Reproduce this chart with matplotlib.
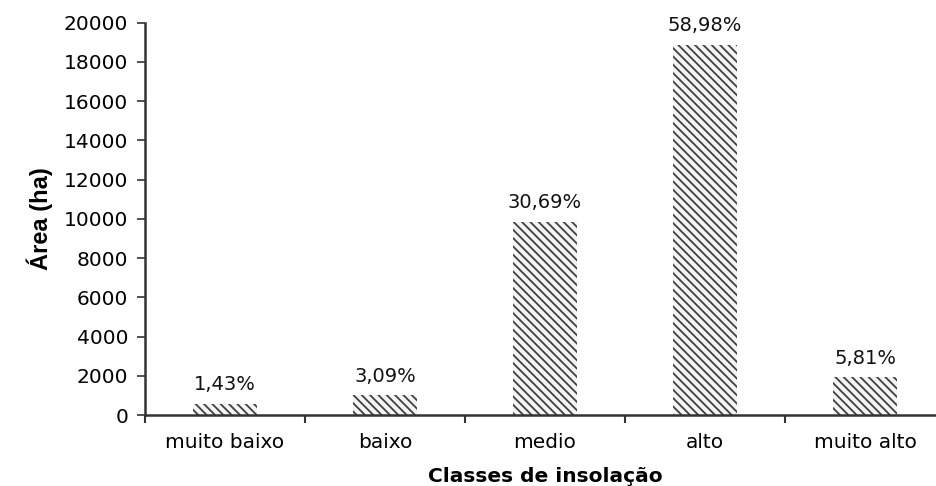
import matplotlib
matplotlib.use("Agg")
import matplotlib.pyplot as plt
import numpy as np

# data
classes = ["muito baixo", "baixo", "medio", "alto", "muito alto"]
area_ha = [580, 1000, 9860, 18870, 1920]
pct_labels = ["1,43%", "3,09%", "30,69%", "58,98%", "5,81%"]
y_ticks = list(range(0, 20001, 2000))

plt.rcParams['font.family'] = ['DejaVu Sans']
plt.rcParams['hatch.linewidth'] = 1.3

fig = plt.figure(figsize=(9.36, 4.86), dpi=100)
ax = fig.add_axes([145/936, 1 - 415/486, 800/936, (415 - 22.7)/486])

x = np.arange(len(classes))
ax.bar(x, area_ha, width=0.40, color='#f4f4f4', edgecolor='#404040', hatch='\\\\\\\\', lw=0)

for xi, v, lab in zip(x, area_ha, pct_labels):
    ax.annotate(lab, (xi, v), xytext=(0, 7), textcoords='offset points',
                ha='center', va='bottom', fontsize=14, color='#111111')

ax.set_xlim(-0.5, len(classes) - 0.5)
ax.set_ylim(0, 20000)
ax.set_yticks(y_ticks)
ax.set_yticklabels([str(t) for t in y_ticks], fontsize=14.5)

ax.set_xticks(x)
ax.set_xticklabels(classes, fontsize=14.5)
ax.set_xticks(np.arange(-0.5, len(classes) + 0.5, 1), minor=True)
ax.tick_params(axis='x', which='major', length=0, pad=13)
ax.tick_params(axis='x', which='minor', length=6, width=1.5, color='#333333', direction='out')
ax.tick_params(axis='y', length=6, width=1.2, color='#333333', direction='out', pad=6)

for s in ['top', 'right']:
    ax.spines[s].set_visible(False)
for s in ['left', 'bottom']:
    ax.spines[s].set_color('#333333')
    ax.spines[s].set_linewidth(1.8)

ax.set_xlabel("Classes de insolação", fontsize=14.5, fontweight='bold', labelpad=11)
ax.set_ylabel("Área (ha)", fontsize=17, fontweight='bold',
              family=['Liberation Sans Narrow', 'Liberation Sans'], labelpad=8)

fig.savefig("out.png", dpi=100)
